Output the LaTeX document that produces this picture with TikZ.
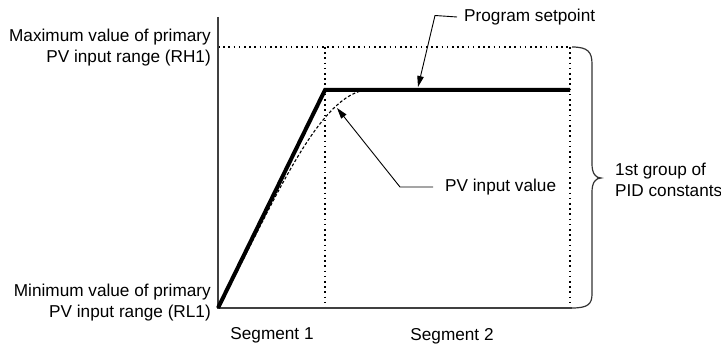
\documentclass[tikz,border=0pt]{standalone}
\usepackage{fontspec}
\setmainfont{Liberation Sans}
\usetikzlibrary{arrows.meta}
\begin{document}
\begin{tikzpicture}[x=1pt,y=-1pt,
  lbl/.style={inner sep=0pt, font=\fontsize{17.2}{20.8}\selectfont},
  axisline/.style={line width=1.3pt, draw=black!75},
  guide/.style={line width=1.2pt, dash pattern=on 1.6pt off 3.6pt},
  setpt/.style={line width=4pt, line join=miter},
  pvcurve/.style={line width=1.1pt, dash pattern=on 3pt off 2pt},
  callout/.style={line width=0.9pt, -{Triangle[length=11pt,width=6.5pt]}},
  bracestyle/.style={line width=1.2pt, draw=black!80}]
\useasboundingbox (0,0) rectangle (721,344);
% reference coordinates
\coordinate (O) at (218,308);
\coordinate (top) at (218,17);
\coordinate (xend) at (572,308);
\coordinate (K) at (325,90);
\coordinate (E) at (570,90);
\coordinate (h1) at (218,47);
\coordinate (h2) at (570,47);
\coordinate (v1t) at (325,47);
\coordinate (v1b) at (325,308);
\coordinate (v2b) at (570,308);
\coordinate (pvend) at (365,90);
% guides
\draw[guide] (h1) -- (h2);
\draw[guide] (v1t) -- (v1b);
\draw[guide] (h2) -- (v2b);
% axes
\draw[axisline] (top) -- (O) -- (xend);
% brace
\draw[bracestyle] (572,47) .. controls (588,47) and (592,52) .. (592,64)
  -- (592,164) .. controls (592,174) and (596,178) .. (601,178)
  .. controls (596,178) and (592,182) .. (592,192)
  -- (592,294) .. controls (592,304) and (588,308) .. (572,308);
% PV curve
\draw[pvcurve] (O) .. controls (270,212) and (315,98) .. (pvend) -- (E);
% setpoint
\draw[setpt] (O) -- (K) -- (E);
% labels
\node[lbl, align=right, anchor=east] (max) at (211,47.5) {Maximum value of primary\\PV input range (RH1)};
\node[lbl, align=right, anchor=east] (min) at (211,302.5) {Minimum value of primary\\PV input range (RL1)};
\node[lbl] (s1) at (272,335) {Segment 1};
\node[lbl] (s2) at (452,336) {Segment 2};
\node[lbl, anchor=west] (sp) at (464,17) {Program setpoint};
\node[lbl, anchor=west] (pv) at (445,187) {PV input value};
\node[lbl, align=left, anchor=west] (pid) at (615,180) {1st group of\\PID constants};
% callouts
\coordinate (sptip) at (418,87);
\coordinate (pvtip) at (337,108);
\draw[callout] (sp.west) ++(-7,0) -- (435,15.5) -- (sptip);
\draw[callout] (pv.west) ++(-12,0) -- (400,187) -- (pvtip);
\end{tikzpicture}
\end{document}
